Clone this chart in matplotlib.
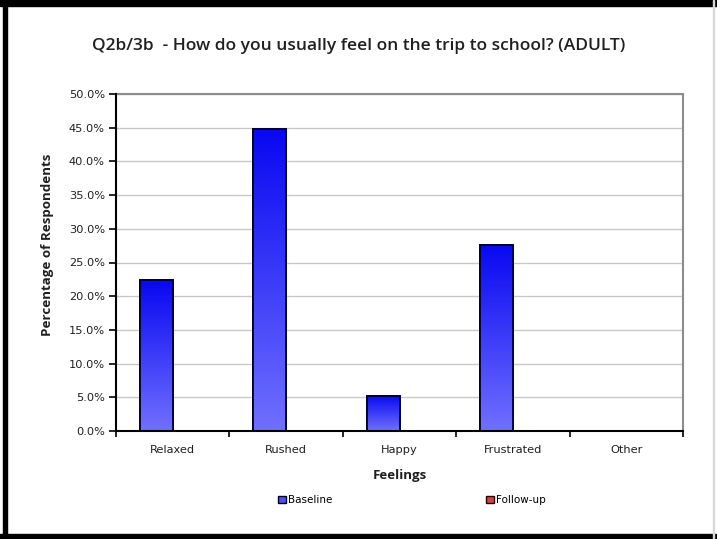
import numpy as np
import matplotlib
matplotlib.use("Agg")
import matplotlib.pyplot as plt
from matplotlib.patches import Rectangle, Patch
from matplotlib.colors import LinearSegmentedColormap
from matplotlib.ticker import FixedLocator, PercentFormatter

categories = ["Relaxed", "Rushed", "Happy", "Frustrated", "Other"]
baseline = [22.4, 44.8, 5.2, 27.6, 0.0]
followup = [0.0, 0.0, 0.0, 0.0, 0.0]
series_names = ["Baseline", "Follow-up"]
title = "Q2b/3b  - How do you usually feel on the trip to school? (ADULT)"
xlabel = "Feelings"
ylabel = "Percentage of Respondents"

fig = plt.figure(figsize=(7.17, 5.39), dpi=100)
W, H = 717, 539
ax = fig.add_axes([116 / W, 1 - 431 / H, (683 - 116) / W, (431 - 94) / H])

x = np.arange(len(categories))
w = 0.29
bars_b = ax.bar(x - w / 2, baseline, w, color="#4040f0", edgecolor="#000030",
                linewidth=1.3, zorder=3)
bars_f = ax.bar(x + w / 2, followup, w, color="#c04040", edgecolor="#000030",
                linewidth=1.3, zorder=3)

# vertical gradient fill for baseline bars
cmap = LinearSegmentedColormap.from_list("g", ["#7070ff", "#0808f2"])
grad = np.linspace(0, 1, 256).reshape(-1, 1)
for r in bars_b:
    x0, y0 = r.get_x(), r.get_y()
    hgt = r.get_height()
    if hgt <= 0:
        continue
    im = ax.imshow(grad, extent=(x0, x0 + r.get_width(), y0, y0 + hgt),
                   origin="lower", cmap=cmap, aspect="auto", zorder=3.5)
    im.set_clip_path(r)
    edge = Rectangle((x0, y0), r.get_width(), hgt, fill=False,
                     edgecolor="#000030", linewidth=1.3, zorder=4)
    ax.add_patch(edge)

ax.set_xlim(-0.5, len(categories) - 0.5)
ax.set_ylim(0, 50)
ax.set_yticks(np.arange(0, 50.1, 5))
ax.yaxis.set_major_formatter(PercentFormatter(decimals=1))
ax.set_xticks(x)
ax.set_xticklabels(categories)
ax.xaxis.set_minor_locator(FixedLocator(np.arange(-0.5, len(categories), 1)))
ax.tick_params(axis="x", which="major", length=0, pad=10, labelsize=8.2,
               labelcolor="#202020")
ax.tick_params(axis="x", which="minor", length=4, width=1.2, color="black")
ax.tick_params(axis="y", length=5, width=1.2, pad=3, labelsize=8.2,
               labelcolor="#202020")

ax.grid(axis="y", color="#c8c8c8", linewidth=1.0, zorder=0)
ax.set_axisbelow(True)
for s in ["left", "bottom"]:
    ax.spines[s].set_color("black")
    ax.spines[s].set_linewidth(1.5)
    ax.spines[s].set_zorder(5)
for s in ["top", "right"]:
    ax.spines[s].set_color("#8c8c8c")
    ax.spines[s].set_linewidth(1.5)

ax.set_xlabel(xlabel, fontsize=9.5, fontweight="bold", family="Open Sans",
              labelpad=10, color="#202020")
ax.set_ylabel(ylabel, fontsize=9.6, fontweight="bold", family="Open Sans",
              color="#202020", va="center")
ax.yaxis.set_label_coords((48 - 116) / 567, (431 - 245) / 337)

fig.text(0.5, 1 - 46 / H, title, ha="center", va="center", fontsize=12.5,
         fontweight="semibold", family="Open Sans", color="#202020")

handles = [Patch(facecolor="#5050e8", edgecolor="#000030", linewidth=1),
           Patch(facecolor="#c84848", edgecolor="#300000", linewidth=1)]
leg = fig.legend(handles, series_names, loc="center", ncol=2,
                 bbox_to_anchor=(412 / W, 1 - 500 / H), frameon=False,
                 fontsize=7.5, handlelength=0.7, handleheight=0.7,
                 handletextpad=0.2, columnspacing=14.8)

# outer frame of the chart image
fig.patches.append(Rectangle((3 / W, 0), 4 / W, 1, transform=fig.transFigure,
                             color="black", zorder=10))
fig.patches.append(Rectangle((0, 1 - 6 / H), 1, 6 / H, transform=fig.transFigure,
                             color="black", zorder=10))
fig.patches.append(Rectangle((0, 0), 1, 5 / H, transform=fig.transFigure,
                             color="black", zorder=10))
fig.patches.append(Rectangle((713 / W, 0), 1 / W, 1, transform=fig.transFigure,
                             color="#d8d8d8", zorder=10))

fig.savefig("out.png", dpi=100)
